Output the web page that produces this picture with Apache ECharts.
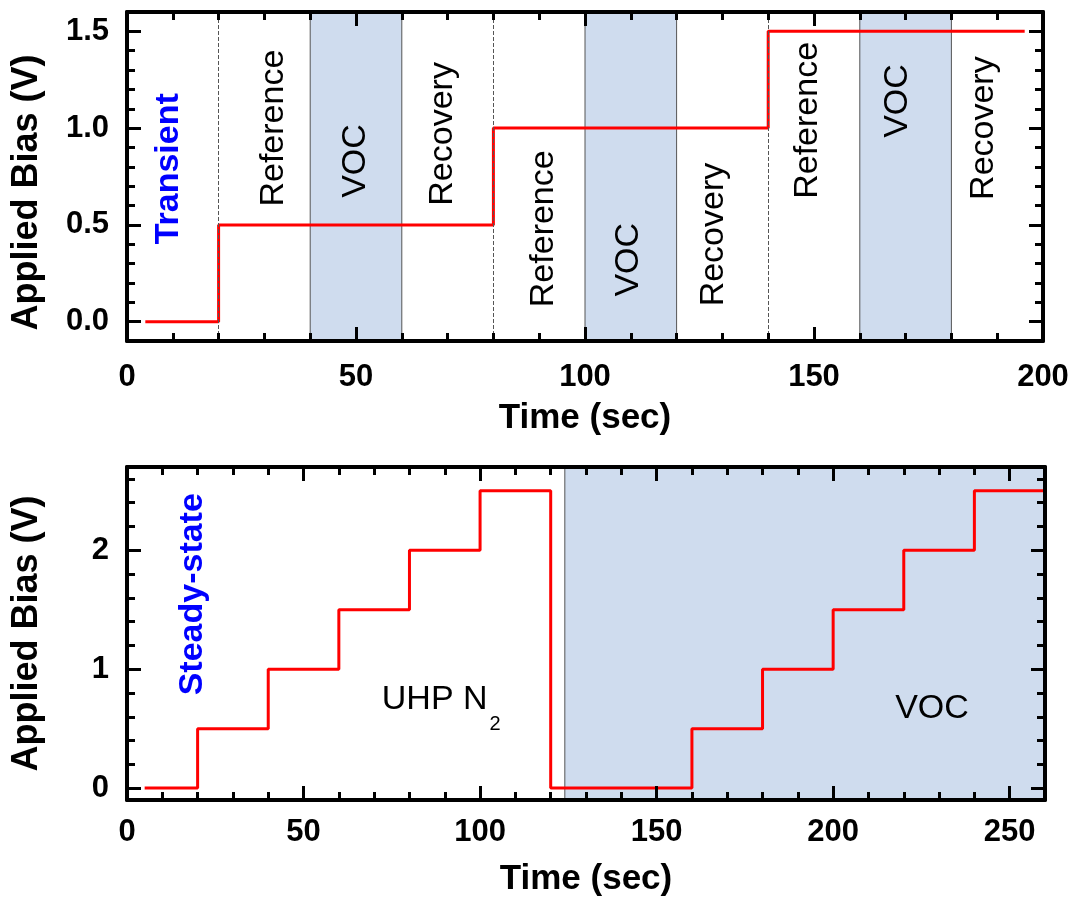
<!DOCTYPE html>
<html>
<head>
<meta charset="utf-8">
<title>Applied Bias</title>
<script src="https://cdn.jsdelivr.net/npm/echarts@6/dist/echarts.min.js"></script>
<style>
  html, body { margin: 0; padding: 0; background: #fff; }
  #chart { width: 1073px; height: 898px; }
</style>
</head>
<body>
<div id="chart"></div>
<script>
// transient test (top panel)
const topTime = [4, 20, 80, 140, 196]
const topBias = [0, 0.5, 1.0, 1.5, 1.5]
const topVocWindows = [[40, 60], [100, 120], [160, 180]]
const topSwitchTimes = [20, 80, 140]
const topXTicks = [0, 50, 100, 150, 200]
const topYTicks = [0, 0.5, 1.0, 1.5]
const topPhaseNames = ['Reference', 'VOC', 'Recovery', 'Reference', 'VOC', 'Recovery', 'Reference', 'VOC', 'Recovery']
const topPhaseX = [32, 50, 69, 91, 109.5, 128, 148.7, 168.3, 187]
const topPhaseY = [1.0, 0.83, 0.97, 0.48, 0.32, 0.45, 1.04, 1.14, 1.0]

// steady-state test (bottom panel)
const bottomTime = [5, 20, 40, 60, 80, 100, 120, 160, 180, 200, 220, 240, 260]
const bottomBias = [0, 0.5, 1, 1.5, 2, 2.5, 0, 0.5, 1, 1.5, 2, 2.5, 2.5]
const bottomVocWindows = [[124, 260]]
const bottomXTicks = [0, 50, 100, 150, 200, 250]
const bottomYTicks = [0, 1, 2]

const font = 'Liberation Sans, Arial, sans-serif'
const black = '#000'
const red = '#ff0000'
const shade = '#cfdcee'

function minorValues(max, step) {
  const out = []
  for (let i = 0; i * step <= max + 1e-9; i++) out.push(Math.round(i * step * 1000) / 1000)
  return out
}

function tickStyle(len) {
  return { show: true, inside: true, length: len, lineStyle: { color: black, width: 3 } }
}

const frameLine = { show: true, onZero: false, lineStyle: { color: black, width: 4 } }
const noLine = { show: false, onZero: false }

// 4 x axes per grid: bottom major, bottom minor, top major, top minor
function makeXAxes(grid, max, major, step, margin, nameGap) {
  const minor = minorValues(max, step)
  const base = { gridIndex: grid, type: 'value', min: 0, max: max, z: 5, splitLine: { show: false } }
  return [
    Object.assign({}, base, {
      position: 'bottom',
      axisLine: frameLine,
      axisTick: Object.assign(tickStyle(14), { customValues: major }),
      axisLabel: { customValues: major, margin: margin, fontSize: 31, fontWeight: 'bold', color: black, fontFamily: font },
      name: 'Time (sec)',
      nameLocation: 'middle',
      nameGap: nameGap,
      nameTextStyle: { fontSize: 35, fontWeight: 'bold', color: black, fontFamily: font }
    }),
    Object.assign({}, base, {
      position: 'bottom',
      axisLine: noLine,
      axisTick: Object.assign(tickStyle(8), { customValues: minor }),
      axisLabel: { show: false }
    }),
    Object.assign({}, base, {
      position: 'top',
      axisLine: frameLine,
      axisTick: Object.assign(tickStyle(14), { customValues: major }),
      axisLabel: { show: false }
    }),
    Object.assign({}, base, {
      position: 'top',
      axisLine: noLine,
      axisTick: Object.assign(tickStyle(8), { customValues: minor }),
      axisLabel: { show: false }
    })
  ]
}

function makeYAxes(grid, min, max, major, step, fmt, namePad) {
  const minor = minorValues(max, step)
  const base = { gridIndex: grid, type: 'value', min: min, max: max, z: 5, splitLine: { show: false } }
  return [
    Object.assign({}, base, {
      position: 'left',
      axisLine: frameLine,
      axisTick: Object.assign(tickStyle(14), { customValues: major }),
      axisLabel: { customValues: major, formatter: fmt, margin: 18, fontSize: 31, fontWeight: 'bold', color: black, fontFamily: font },
      name: 'Applied Bias (V)',
      nameLocation: 'middle',
      nameGap: 82,
      nameTextStyle: { fontSize: 36, fontWeight: 'bold', color: black, fontFamily: font, padding: namePad }
    }),
    Object.assign({}, base, {
      position: 'left',
      axisLine: noLine,
      axisTick: Object.assign(tickStyle(8), { customValues: minor }),
      axisLabel: { show: false }
    }),
    Object.assign({}, base, {
      position: 'right',
      axisLine: frameLine,
      axisTick: Object.assign(tickStyle(14), { customValues: major }),
      axisLabel: { show: false }
    }),
    Object.assign({}, base, {
      position: 'right',
      axisLine: noLine,
      axisTick: Object.assign(tickStyle(8), { customValues: minor }),
      axisLabel: { show: false }
    })
  ]
}

const rotatedLabel = { show: true, position: 'inside', rotate: 90, formatter: '{b}', fontSize: 34, color: black, fontFamily: font }
const blueLabel = { fontWeight: 'bold', color: '#0000ff' }

const topNotes = topPhaseNames.map((n, i) => ({ name: n, value: [topPhaseX[i], topPhaseY[i]] }))
topNotes.push({ name: 'Transient', value: [9, 0.79], label: blueLabel })

const bottomNotes = [
  { name: 'Steady-state', value: [18.7, 1.63], label: blueLabel },
  { name: 'UHP N2', value: [89, 0.67], label: { rotate: 0, formatter: '{n|UHP N}{s|2}' } },
  { name: 'VOC', value: [228, 0.67], label: { rotate: 0 } }
]

const chart = echarts.init(document.getElementById('chart'))
const option = {
  animation: false,
  backgroundColor: '#fff',
  grid: [
    { left: 127, right: 30, top: 12, height: 329 },
    { left: 127, right: 28, top: 467, height: 333 }
  ],
  xAxis: makeXAxes(0, 200, topXTicks, 10, 21, 60).concat(makeXAxes(1, 260, bottomXTicks, 10, 17, 62)),
  yAxis: makeYAxes(0, -0.1, 1.6, topYTicks, 0.1, v => v.toFixed(1), [0, 32, 0, 0])
    .concat(makeYAxes(1, -0.1, 2.7, bottomYTicks, 0.2, v => String(v), 0)),
  series: [
    {
      // VOC windows and switch markers, top
      type: 'line',
      xAxisIndex: 0,
      yAxisIndex: 0,
      data: [],
      z: 1,
      silent: true,
      markArea: {
        silent: true,
        itemStyle: { color: shade, borderColor: '#555', borderWidth: 1 },
        data: topVocWindows.map(w => [{ xAxis: w[0] }, { xAxis: w[1] }])
      },
      markLine: {
        silent: true,
        symbol: 'none',
        label: { show: false },
        lineStyle: { color: '#555', width: 1, type: 'dashed' },
        data: topSwitchTimes.map(t => ({ xAxis: t }))
      }
    },
    {
      type: 'line',
      xAxisIndex: 4,
      yAxisIndex: 4,
      data: [],
      z: 1,
      silent: true,
      markArea: {
        silent: true,
        itemStyle: { color: shade, borderColor: '#555', borderWidth: 1 },
        data: bottomVocWindows.map(w => [{ xAxis: w[0] }, { xAxis: w[1] }])
      }
    },
    {
      name: 'Transient',
      type: 'line',
      xAxisIndex: 0,
      yAxisIndex: 0,
      step: 'end',
      showSymbol: false,
      z: 3,
      lineStyle: { color: red, width: 3 },
      data: topTime.map((t, i) => [t, topBias[i]])
    },
    {
      name: 'Steady-state',
      type: 'line',
      xAxisIndex: 4,
      yAxisIndex: 4,
      step: 'end',
      showSymbol: false,
      z: 3,
      lineStyle: { color: red, width: 3 },
      data: bottomTime.map((t, i) => [t, bottomBias[i]])
    },
    {
      type: 'scatter',
      xAxisIndex: 0,
      yAxisIndex: 0,
      symbolSize: 0,
      silent: true,
      z: 4,
      itemStyle: { color: 'transparent', opacity: 1 },
      label: rotatedLabel,
      data: topNotes
    },
    {
      type: 'scatter',
      xAxisIndex: 4,
      yAxisIndex: 4,
      symbolSize: 0,
      silent: true,
      z: 4,
      itemStyle: { color: 'transparent', opacity: 1 },
      label: Object.assign({}, rotatedLabel, {
        rich: {
          n: { fontSize: 34, color: black, fontFamily: font, lineHeight: 34, verticalAlign: 'top' },
          s: { fontSize: 20, color: black, fontFamily: font, verticalAlign: 'bottom', padding: [32, 0, 0, 2] }
        }
      }),
      data: bottomNotes
    }
  ]
}
chart.setOption(option)
</script>
</body>
</html>
